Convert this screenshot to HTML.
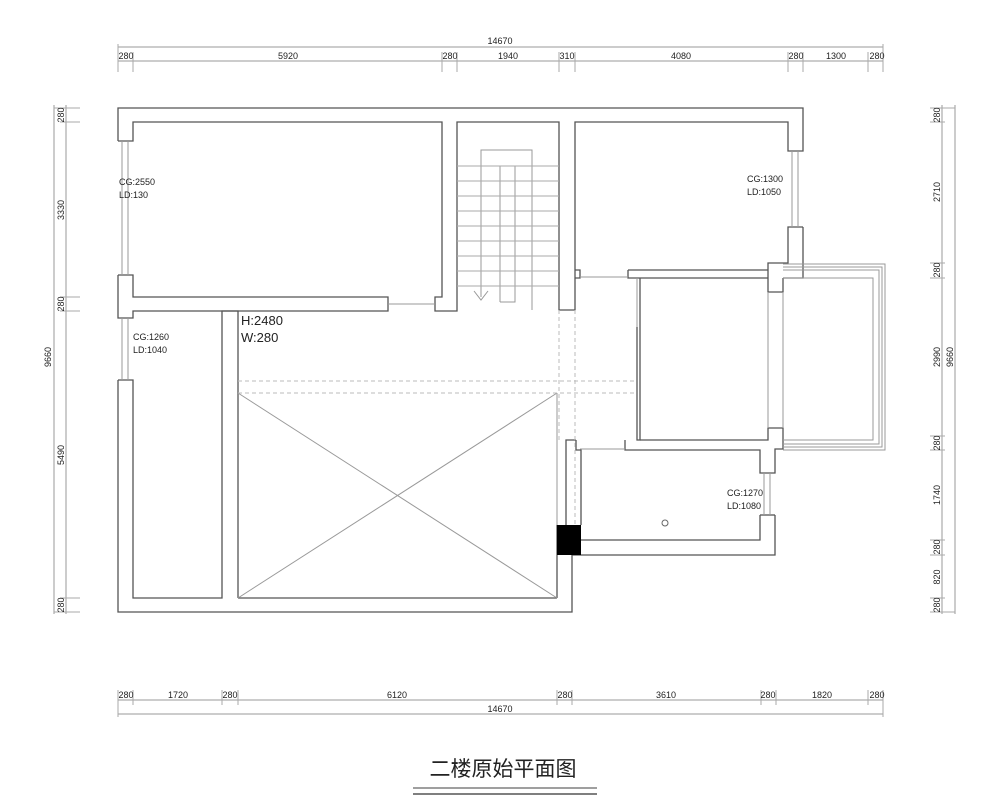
<!DOCTYPE html>
<html><head><meta charset="utf-8"><style>
html,body{margin:0;padding:0;background:#fff;}
svg{display:block;}
text{font-family:"Liberation Sans",sans-serif;fill:#222;}
</style></head><body>
<svg width="1000" height="807" viewBox="0 0 1000 807" xmlns="http://www.w3.org/2000/svg">
<g fill="none" stroke="#999" stroke-width="1">
<!-- top dims -->
<line x1="118" y1="47" x2="883" y2="47"/>
<line x1="118" y1="61" x2="883" y2="61"/>
<g stroke="#aaa">
<line x1="118" y1="44" x2="118" y2="72"/><line x1="133" y1="52" x2="133" y2="72"/>
<line x1="442" y1="52" x2="442" y2="72"/><line x1="457" y1="52" x2="457" y2="72"/>
<line x1="559" y1="52" x2="559" y2="72"/><line x1="575" y1="52" x2="575" y2="72"/>
<line x1="788" y1="52" x2="788" y2="72"/><line x1="803" y1="52" x2="803" y2="72"/>
<line x1="868" y1="52" x2="868" y2="72"/><line x1="883" y1="44" x2="883" y2="72"/>
</g>
<!-- bottom dims -->
<line x1="118" y1="700" x2="883" y2="700"/>
<line x1="118" y1="714" x2="883" y2="714"/>
<g stroke="#aaa">
<line x1="118" y1="690" x2="118" y2="717"/><line x1="133" y1="690" x2="133" y2="705"/>
<line x1="222" y1="690" x2="222" y2="705"/><line x1="238" y1="690" x2="238" y2="705"/>
<line x1="557" y1="690" x2="557" y2="705"/><line x1="572" y1="690" x2="572" y2="705"/>
<line x1="761" y1="690" x2="761" y2="705"/><line x1="776" y1="690" x2="776" y2="705"/>
<line x1="868" y1="690" x2="868" y2="705"/><line x1="883" y1="690" x2="883" y2="717"/>
</g>
<!-- left dims -->
<line x1="54" y1="105" x2="54" y2="614"/>
<line x1="66" y1="105" x2="66" y2="614"/>
<g stroke="#aaa">
<line x1="54" y1="108" x2="80" y2="108"/><line x1="60" y1="122" x2="80" y2="122"/>
<line x1="60" y1="297" x2="80" y2="297"/><line x1="60" y1="311" x2="80" y2="311"/>
<line x1="60" y1="598" x2="80" y2="598"/><line x1="54" y1="612" x2="80" y2="612"/>
</g>
<!-- right dims -->
<line x1="942" y1="105" x2="942" y2="614"/>
<line x1="955" y1="105" x2="955" y2="614"/>
<g stroke="#aaa">
<line x1="930" y1="108" x2="955" y2="108"/><line x1="930" y1="122" x2="945" y2="122"/>
<line x1="930" y1="263" x2="945" y2="263"/><line x1="930" y1="278" x2="945" y2="278"/>
<line x1="930" y1="436" x2="945" y2="436"/><line x1="930" y1="450" x2="945" y2="450"/>
<line x1="930" y1="540" x2="945" y2="540"/><line x1="930" y1="555" x2="945" y2="555"/>
<line x1="930" y1="598" x2="945" y2="598"/><line x1="930" y1="612" x2="955" y2="612"/>
</g>
</g>
<g font-size="9">
<text x="500" y="44" text-anchor="middle">14670</text>
<text x="126" y="59" text-anchor="middle">280</text>
<text x="288" y="59" text-anchor="middle">5920</text>
<text x="450" y="59" text-anchor="middle">280</text>
<text x="508" y="59" text-anchor="middle">1940</text>
<text x="567" y="59" text-anchor="middle">310</text>
<text x="681" y="59" text-anchor="middle">4080</text>
<text x="796" y="59" text-anchor="middle">280</text>
<text x="836" y="59" text-anchor="middle">1300</text>
<text x="877" y="59" text-anchor="middle">280</text>
<text x="126" y="698" text-anchor="middle">280</text>
<text x="178" y="698" text-anchor="middle">1720</text>
<text x="230" y="698" text-anchor="middle">280</text>
<text x="397" y="698" text-anchor="middle">6120</text>
<text x="565" y="698" text-anchor="middle">280</text>
<text x="666" y="698" text-anchor="middle">3610</text>
<text x="768" y="698" text-anchor="middle">280</text>
<text x="822" y="698" text-anchor="middle">1820</text>
<text x="877" y="698" text-anchor="middle">280</text>
<text x="500" y="712" text-anchor="middle">14670</text>
<g transform="translate(64,115) rotate(-90)"><text text-anchor="middle">280</text></g>
<g transform="translate(64,210) rotate(-90)"><text text-anchor="middle">3330</text></g>
<g transform="translate(64,304) rotate(-90)"><text text-anchor="middle">280</text></g>
<g transform="translate(51,357) rotate(-90)"><text text-anchor="middle">9660</text></g>
<g transform="translate(64,455) rotate(-90)"><text text-anchor="middle">5490</text></g>
<g transform="translate(64,605) rotate(-90)"><text text-anchor="middle">280</text></g>
<g transform="translate(940,115) rotate(-90)"><text text-anchor="middle">280</text></g>
<g transform="translate(940,192) rotate(-90)"><text text-anchor="middle">2710</text></g>
<g transform="translate(940,270) rotate(-90)"><text text-anchor="middle">280</text></g>
<g transform="translate(940,357) rotate(-90)"><text text-anchor="middle">2990</text></g>
<g transform="translate(953,357) rotate(-90)"><text text-anchor="middle">9660</text></g>
<g transform="translate(940,443) rotate(-90)"><text text-anchor="middle">280</text></g>
<g transform="translate(940,495) rotate(-90)"><text text-anchor="middle">1740</text></g>
<g transform="translate(940,547) rotate(-90)"><text text-anchor="middle">280</text></g>
<g transform="translate(940,577) rotate(-90)"><text text-anchor="middle">820</text></g>
<g transform="translate(940,605) rotate(-90)"><text text-anchor="middle">280</text></g>
</g>

<!-- walls -->
<g fill="none" stroke="#555" stroke-width="1.3">
<!-- outer top and left -->
<polyline points="118,141 118,108 803,108 803,151 788,151 788,122 575,122 575,310 559,310 559,122 457,122 457,311 435,311 435,297 442,297 442,122 133,122 133,141 118,141"/>
<polyline points="118,275 133,275 133,297 388,297 388,311 133,311 133,318 118,318 118,275"/>
<polyline points="118,380 133,380 133,598 222,598 222,311 238,311 238,393"/>
<polyline points="118,380 118,612 572,612 572,555 581,555"/>
<!-- right outer -->
<polyline points="803,227 788,227 788,263 768,263 768,292 783,292 783,278"/>
<polyline points="803,227 803,278 783,278"/>
<!-- right room bottom -->
<polyline points="575,270 580,270 580,278 575,278"/>
<polyline points="628,270 768,270"/>
<polyline points="628,270 628,278 768,278"/>
<!-- middle room -->
<polyline points="637,327 637,440 640,440 640,278"/>
<polyline points="640,440 768,440 768,428 783,428 783,449 775,449 775,473 760,473 760,450 625,450 625,440"/>
<polyline points="576,440 566,440 566,525"/>
<polyline points="576,440 576,450 581,450 581,525"/>
<polyline points="775,515 775,555 581,555"/>
<polyline points="760,515 760,540 581,540"/>
<line x1="760" y1="515" x2="775" y2="515"/>
<line x1="557" y1="525" x2="557" y2="598"/>
<line x1="557" y1="598" x2="238" y2="598"/>
<line x1="238" y1="393" x2="238" y2="598"/>
</g>
<g fill="none" stroke="#999" stroke-width="1">
<!-- windows -->
<line x1="122" y1="141" x2="122" y2="275"/><line x1="128" y1="141" x2="128" y2="275"/>
<line x1="122" y1="318" x2="122" y2="380"/><line x1="128" y1="318" x2="128" y2="380"/>
<line x1="792" y1="151" x2="792" y2="227"/><line x1="798" y1="151" x2="798" y2="227"/>
<line x1="764" y1="473" x2="764" y2="515"/><line x1="770" y1="473" x2="770" y2="515"/>
<line x1="388" y1="304" x2="435" y2="304"/>
<line x1="580" y1="277" x2="628" y2="277"/>
<line x1="580" y1="449" x2="625" y2="449"/>
<line x1="637" y1="278" x2="637" y2="327"/>
<!-- balcony -->
<polyline points="783,264 885,264 885,450 783,450"/>
<polyline points="783,267 882,267 882,447 783,447"/>
<polyline points="783,270 879,270 879,444 783,444"/>
<polyline points="783,278 873,278 873,440 783,440"/>
<line x1="768" y1="292" x2="768" y2="428"/>
<line x1="783" y1="292" x2="783" y2="428"/>
<!-- stairs -->
<polyline points="481,297 481,150 532,150 532,310"/>
<polyline points="500,302 500,166 515,166 515,302 500,302"/>
<g stroke="#aaa">
<line x1="457" y1="166" x2="559" y2="166"/><line x1="457" y1="181" x2="559" y2="181"/>
<line x1="457" y1="196" x2="559" y2="196"/><line x1="457" y1="211" x2="559" y2="211"/>
<line x1="457" y1="226" x2="559" y2="226"/><line x1="457" y1="241" x2="559" y2="241"/>
<line x1="457" y1="256" x2="559" y2="256"/><line x1="457" y1="271" x2="559" y2="271"/>
<line x1="457" y1="286" x2="559" y2="286"/>
</g>
<polyline points="474,291 481,300 488,291"/>
<!-- X void -->
<line x1="238" y1="393" x2="557" y2="598"/>
<line x1="557" y1="393" x2="238" y2="598"/>
<line x1="557" y1="393" x2="557" y2="525"/>
<g stroke-dasharray="4,3" stroke="#bbb">
<line x1="238" y1="381" x2="637" y2="381"/>
<line x1="238" y1="393" x2="637" y2="393"/>
<line x1="559" y1="310" x2="559" y2="440"/>
<line x1="575" y1="310" x2="575" y2="525"/>
</g>
</g>
<rect x="557" y="525" width="24" height="30" fill="#000"/>
<circle cx="665" cy="523" r="3" fill="none" stroke="#666"/>
<g font-size="9" font-family="Liberation Mono,monospace">
<text x="119" y="185">CG:2550</text><text x="119" y="198">LD:130</text>
<text x="133" y="340">CG:1260</text><text x="133" y="353">LD:1040</text>
<text x="747" y="182">CG:1300</text><text x="747" y="195">LD:1050</text>
<text x="727" y="496">CG:1270</text><text x="727" y="509">LD:1080</text>
</g>
<text x="241" y="325" font-size="13" font-family="Liberation Mono,monospace">H:2480</text>
<text x="241" y="342" font-size="13" font-family="Liberation Mono,monospace">W:280</text>
<text x="503" y="776" font-size="21" text-anchor="middle" style='font-family:"Liberation Sans","Noto Sans CJK SC",sans-serif'>二楼原始平面图</text>
<line x1="413" y1="788" x2="597" y2="788" stroke="#666" stroke-width="1.2"/>
<line x1="413" y1="794" x2="597" y2="794" stroke="#555" stroke-width="1.6"/>
</svg>
</body></html>
